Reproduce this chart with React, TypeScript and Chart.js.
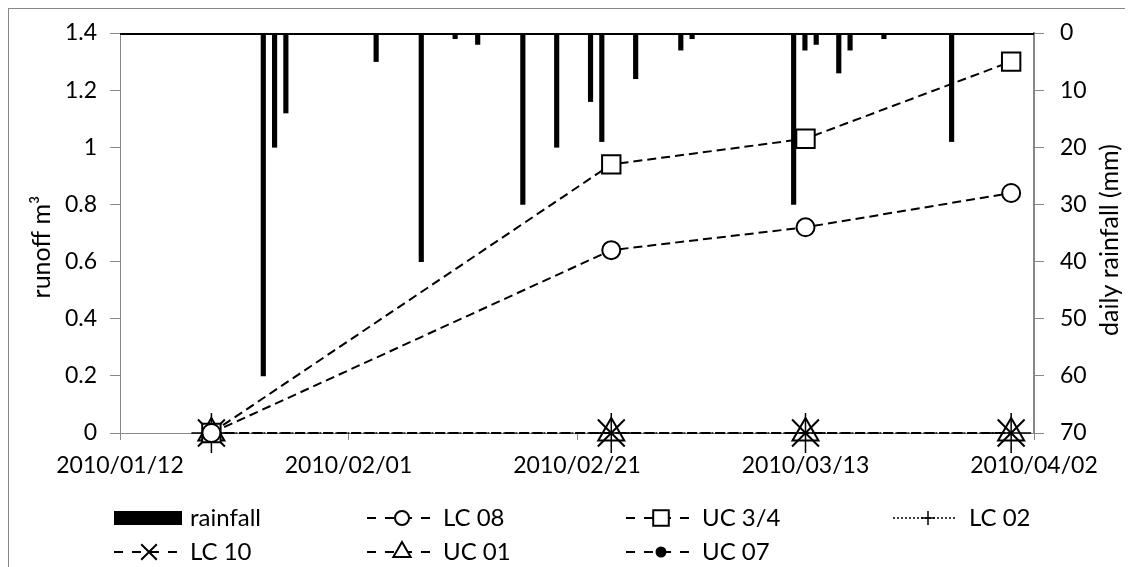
import React, { useEffect, useRef } from 'react';
import { Chart, registerables } from 'chart.js';
import { drawPoint } from 'chart.js/helpers';

Chart.register(...registerables);

// ---------- data ----------
const originDate = '2010/01/12';
const xTickLabels = ['2010/01/12', '2010/02/01', '2010/02/21', '2010/03/13', '2010/04/02'];
const sampleDates = ['2010/01/20', '2010/02/24', '2010/03/13', '2010/03/31'];
const lc08 = [0, 0.64, 0.72, 0.84];
const uc34 = [0, 0.94, 1.03, 1.3];
const lc02 = [0, 0, 0, 0];
const lc10 = [0, 0, 0, 0];
const uc01 = [0, 0, 0, 0];
const uc07 = [0, 0, 0, 0];
const rainDates = [
  '2010/01/24', '2010/01/25', '2010/01/26', '2010/02/03', '2010/02/07', '2010/02/10', '2010/02/12',
  '2010/02/16', '2010/02/19', '2010/02/22', '2010/02/23', '2010/02/26', '2010/03/02', '2010/03/03',
  '2010/03/12', '2010/03/13', '2010/03/14', '2010/03/16', '2010/03/17', '2010/03/20', '2010/03/26',
];
const rainMm = [60, 20, 14, 5, 40, 1, 2, 30, 20, 12, 19, 8, 3, 1, 30, 3, 2, 7, 3, 1, 19];
const seriesNames = ['rainfall', 'LC 08', 'UC 3/4', 'LC 02', 'LC 10', 'UC 01', 'UC 07'];
const yLeftTitle = 'runoff m³';
const yRightTitle = 'daily rainfall (mm)';

// ---------- helpers ----------
const FONT = 'Lato, "Open Sans", sans-serif';
const FS = 24;
const TICK_FS = 23;
const TITLE_FS = 25;
const GRAY = '#888888';

function dayOf(s: string): number {
  const [y, m, d] = s.split('/').map(Number);
  const [y0, m0, d0] = originDate.split('/').map(Number);
  return Math.round((Date.UTC(y, m - 1, d) - Date.UTC(y0, m0 - 1, d0)) / 86400000);
}
const xTickDays = xTickLabels.map(dayOf);
const pts = (vals: number[]) => vals.map((v, i) => ({ x: dayOf(sampleDates[i]), y: v }));

const legendSlots: Record<string, [number, number]> = {
  'rainfall': [0, 0], 'LC 08': [1, 0], 'UC 3/4': [2, 0], 'LC 02': [3, 0],
  'LC 10': [0, 1], 'UC 01': [1, 1], 'UC 07': [2, 1],
};
const legendCols = [105, 358, 617, 884];
const legendRows = [509, 543];
const legendRadius: Record<string, number> = {
  'LC 08': 7, 'UC 3/4': 11, 'LC 02': 7, 'LC 10': 11, 'UC 01': 10, 'UC 07': 4.5,
};

const decoPlugin = {
  id: 'deco',
  afterDatasetsDraw(chart: any) {
    const { ctx, chartArea } = chart;
    ctx.save();
    ctx.strokeStyle = '#000';
    ctx.lineWidth = 2;
    ctx.beginPath();
    ctx.moveTo(chartArea.left, chartArea.top + 1);
    ctx.lineTo(chartArea.right, chartArea.top + 1);
    ctx.stroke();
    ctx.restore();
  },
  afterDraw(chart: any) {
    const { ctx } = chart;
    ctx.save();
    ctx.fillStyle = '#000';
    ctx.font = `${TITLE_FS}px ${FONT}`;
    ctx.textAlign = 'center';
    ctx.textBaseline = 'middle';
    // axis titles (both read bottom-to-top)
    ctx.save();
    ctx.translate(33, 238);
    ctx.rotate(-Math.PI / 2);
    ctx.fillText(yLeftTitle, 0, 0);
    ctx.restore();
    ctx.save();
    ctx.translate(1101, 231);
    ctx.rotate(-Math.PI / 2);
    ctx.fillText(yRightTitle, 0, 0);
    ctx.restore();

    // legend
    ctx.font = `${FS}px ${FONT}`;
    ctx.textAlign = 'left';
    chart.data.datasets.forEach((ds: any) => {
      const slot = legendSlots[ds.label];
      if (!slot) return;
      const cx = legendCols[slot[0]];
      const cy = legendRows[slot[1]];
      if (ds.type === 'bar') {
        ctx.fillStyle = ds.backgroundColor;
        ctx.fillRect(cx, cy - 7, 68, 14);
      } else {
        ctx.save();
        ctx.strokeStyle = ds.borderColor;
        ctx.lineWidth = ds.borderWidth;
        ctx.setLineDash(ds.label === 'LC 02' ? [2, 2] : [9, 9]);
        ctx.beginPath();
        ctx.moveTo(cx, cy);
        ctx.lineTo(cx + 63, cy);
        ctx.stroke();
        ctx.restore();
        ctx.save();
        ctx.fillStyle = ds.pointBackgroundColor;
        ctx.strokeStyle = ds.pointBorderColor;
        ctx.lineWidth = ds.pointBorderWidth;
        drawPoint(ctx, { pointStyle: ds.pointStyle, radius: legendRadius[ds.label], rotation: 0, borderWidth: ds.pointBorderWidth } as any, cx + 35, cy);
        ctx.restore();
      }
      ctx.fillStyle = '#000';
      ctx.fillText(ds.label, cx + 76, cy);
    });
    ctx.restore();
  },
};

function lineDs(label: string, vals: number[], style: string, radius: number, fill: string, extra: any = {}) {
  return {
    type: 'line' as const,
    label,
    data: pts(vals),
    xAxisID: 'x',
    yAxisID: 'y',
    borderColor: '#000',
    borderWidth: 2,
    borderDash: [9, 5],
    pointStyle: style,
    pointRadius: radius,
    pointHoverRadius: radius,
    pointBackgroundColor: fill,
    pointBorderColor: '#000',
    pointBorderWidth: 2,
    tension: 0,
    clip: false,
    order: 0,
    ...extra,
  };
}

export default function App() {
  const ref = useRef<HTMLCanvasElement>(null);
  useEffect(() => {
    document.body.style.overflow = 'hidden';
    const canvas = ref.current!;
    const tickFont = { family: FONT, size: TICK_FS };
    const chart = new Chart(canvas, {
      type: 'line',
      data: {
        datasets: [
          lineDs('LC 08', lc08, 'circle', 9, '#fff'),
          lineDs('UC 3/4', uc34, 'rect', 13, '#fff'),
          lineDs('LC 02', lc02, 'cross', 20, '#fff', { borderWidth: 1.5, borderDash: [2, 2], pointBorderWidth: 1.5 }),
          lineDs('LC 10', lc10, 'crossRot', 19, '#fff'),
          lineDs('UC 01', uc01, 'triangle', 15, '#fff'),
          lineDs('UC 07', uc07, 'circle', 5.5, '#000'),
          {
            type: 'bar' as const,
            label: seriesNames[0],
            data: rainDates.map((d, i) => ({ x: dayOf(d), y: rainMm[i] })),
            xAxisID: 'x2',
            yAxisID: 'y2',
            backgroundColor: '#000',
            borderWidth: 0,
            barThickness: 4.5,
            order: 5,
          } as any,
        ],
      },
      options: {
        responsive: false,
        devicePixelRatio: 1,
        animation: false,
        layout: { padding: { top: 24, left: 0, right: 0, bottom: 0 } },
        plugins: { legend: { display: false }, tooltip: { enabled: false } },
        scales: {
          x: {
            type: 'linear',
            position: 'bottom',
            min: 0,
            max: 80,
            ticks: {
              stepSize: 20,
              autoSkip: false,
              maxRotation: 0,
              font: tickFont,
              color: '#000',
              padding: 12,
              callback: (v: any) => {
                const i = xTickDays.indexOf(Number(v));
                return i >= 0 ? xTickLabels[i] : '';
              },
            },
            grid: { drawOnChartArea: false, tickLength: 7, color: GRAY },
            border: { color: GRAY, width: 1 },
            afterFit: (s: any) => { s.height = 134; s.paddingLeft = 0; s.paddingRight = 0; },
          },
          x2: {
            type: 'linear',
            display: false,
            min: -0.5,
            max: 80.5,
            offset: false,
          },
          y: {
            type: 'linear',
            position: 'left',
            min: 0,
            max: 1.4,
            ticks: {
              stepSize: 0.2,
              font: tickFont,
              color: '#000',
              padding: 13,
              callback: (v: any) => String(Number(Number(v).toFixed(1))),
            },
            grid: { drawOnChartArea: false, tickLength: 10, color: GRAY },
            border: { color: GRAY, width: 1 },
            afterFit: (s: any) => { s.width = 111; s.paddingTop = 0; s.paddingBottom = 0; },
          },
          y2: {
            type: 'linear',
            position: 'right',
            min: 0,
            max: 70,
            reverse: true,
            ticks: { stepSize: 10, font: tickFont, color: '#000', padding: 16 },
            grid: { drawOnChartArea: false, tickLength: 10, color: GRAY },
            border: { color: GRAY, width: 2 },
            afterFit: (s: any) => { s.width = 99; s.paddingTop = 0; s.paddingBottom = 0; },
          },
        },
      } as any,
      plugins: [decoPlugin],
    });
    return () => chart.destroy();
  }, []);
  return (
    <div
      style={{
        width: 1125,
        height: 559,
        boxSizing: 'border-box',
        borderLeft: `1px solid ${GRAY}`,
        borderTop: `1px solid ${GRAY}`,
      }}
    >
      <canvas ref={ref} width={1124} height={558} style={{ display: 'block', width: 1124, height: 558 }} />
    </div>
  );
}
